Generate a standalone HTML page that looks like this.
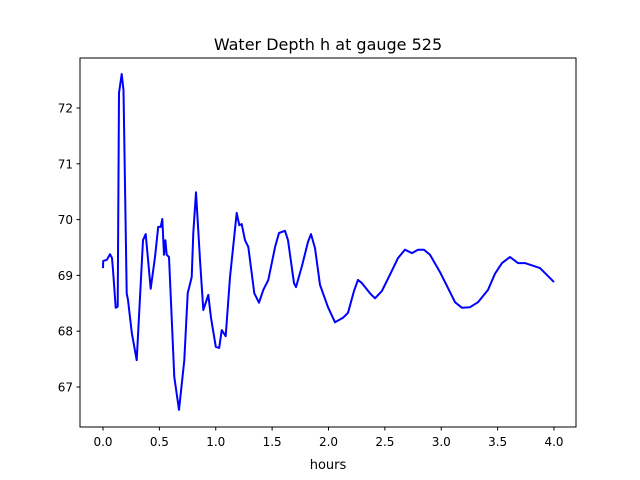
<!DOCTYPE html>
<html><head><meta charset="utf-8"><style>
body{margin:0;background:#fff;}
svg{display:block;font-family:"DejaVu Sans","Liberation Sans",sans-serif;}
</style></head><body>
<svg id="chart" width="640" height="480" xmlns="http://www.w3.org/2000/svg">
<rect width="640" height="480" fill="#fff"/>
<text x="328" y="50" text-anchor="middle" font-size="16" fill="#000">Water Depth h at gauge 525</text>
<text x="328" y="469" text-anchor="middle" font-size="13" fill="#000">hours</text>
<g id="xt"></g>
<g id="yt"></g>
<path id="line" fill="none" stroke="#0000ff" stroke-width="2" stroke-linejoin="round"/>
<rect x="80" y="58" width="496" height="369" fill="none" stroke="#000" stroke-width="1"/>
</svg>
<script>
const times=[0,0.002,0.035,0.062,0.08,0.089,0.113,0.130,0.142,0.166,0.182,0.210,0.222,0.255,0.299,0.355,0.379,0.423,0.461,0.490,0.512,0.526,0.541,0.553,0.565,0.585,0.632,0.674,0.721,0.751,0.787,0.801,0.825,0.860,0.890,0.934,0.958,1.000,1.031,1.053,1.088,1.126,1.186,1.209,1.230,1.259,1.289,1.342,1.384,1.422,1.466,1.526,1.561,1.614,1.641,1.694,1.712,1.765,1.818,1.845,1.880,1.925,1.996,2.058,2.129,2.173,2.226,2.262,2.297,2.368,2.412,2.474,2.545,2.616,2.678,2.741,2.794,2.847,2.900,2.989,3.078,3.122,3.184,3.255,3.326,3.415,3.477,3.539,3.610,3.681,3.743,3.876,4.000];
const depths=[69.13,69.26,69.28,69.38,69.31,69.10,68.42,68.44,72.27,72.61,72.32,68.68,68.56,67.97,67.48,69.63,69.74,68.76,69.33,69.87,69.87,70.01,69.37,69.63,69.37,69.33,67.18,66.59,67.48,68.68,68.97,69.76,70.49,69.28,68.38,68.65,68.24,67.72,67.70,68.02,67.91,68.97,70.12,69.90,69.92,69.63,69.51,68.68,68.51,68.74,68.92,69.51,69.76,69.80,69.63,68.86,68.79,69.17,69.60,69.74,69.49,68.83,68.43,68.16,68.24,68.33,68.72,68.92,68.86,68.68,68.59,68.72,69.01,69.31,69.46,69.40,69.46,69.46,69.37,69.06,68.70,68.52,68.42,68.43,68.52,68.74,69.03,69.22,69.33,69.22,69.22,69.13,68.88];
const xTicks=[0,0.5,1,1.5,2,2.5,3,3.5,4];
const xTickLabels=["0.0","0.5","1.0","1.5","2.0","2.5","3.0","3.5","4.0"];
const yTicks=[67,68,69,70,71,72];
const yTickLabels=["67","68","69","70","71","72"];
const X=t=>103+t*112.75;
const Y=v=>108+(72-v)*55.8;
const NS="http://www.w3.org/2000/svg";
function mk(tag,a,p){const e=document.createElementNS(NS,tag);for(const k in a)e.setAttribute(k,a[k]);p.appendChild(e);return e;}
const xt=document.getElementById('xt'),yt=document.getElementById('yt');
xTicks.forEach((t,i)=>{
 const l=mk('line',{x1:X(t),x2:X(t),y1:427,y2:430.5,stroke:'#000'},xt);
 
 
 const tx=mk('text',{x:X(t),y:446,'text-anchor':'middle','font-size':12},xt);
 tx.textContent=xTickLabels[i];
 
 
});
yTicks.forEach((v,i)=>{
 const l=mk('line',{x1:76.5,x2:80,y1:Y(v),y2:Y(v),stroke:'#000'},yt);
 
 
 const tx=mk('text',{x:73,y:Y(v)+4.5,'text-anchor':'end','font-size':12},yt);
 tx.textContent=yTickLabels[i];
 
 
});
document.getElementById('line').setAttribute('d',times.map((t,i)=>(i?'L':'M')+X(t).toFixed(1)+' '+Y(depths[i]).toFixed(1)).join(' '));
</script>
</body></html>
